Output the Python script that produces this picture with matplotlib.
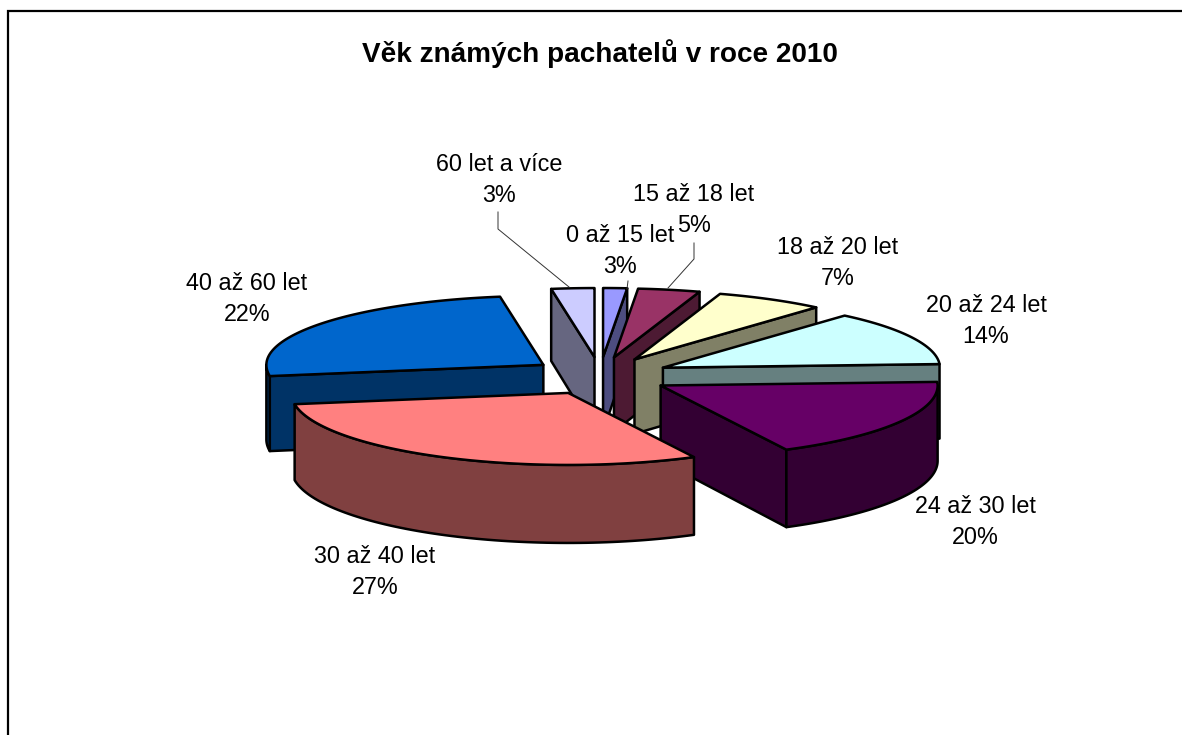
import matplotlib
matplotlib.use("Agg")
import matplotlib.pyplot as plt
from matplotlib.patches import Polygon
import numpy as np

plt.rcParams['font.family'] = ['Liberation Sans', 'DejaVu Sans']

title = "Věk známých pachatelů v roce 2010"
# order as in the chart, clockwise from the top
categories = ["0 až 15 let", "15 až 18 let", "18 až 20 let", "20 až 24 let",
              "24 až 30 let", "30 až 40 let", "40 až 60 let", "60 let a více"]
percents = [3, 5, 7, 14, 20, 27, 22, 3]
top_colors = ["#9999FF", "#993366", "#FFFFCC", "#CCFFFF",
              "#660066", "#FF8080", "#0066CC", "#CCCCFF"]
side_colors = ["#4D4D80", "#4D1A33", "#808066", "#668080",
               "#330033", "#804040", "#003366", "#666680"]
# label centres in pixels
label_pos = [(620, 250), (694, 209), (838, 262), (986, 320),
             (975, 521), (375, 571), (247, 298), (499, 179)]

# geometry of the fake 3d pie, in pixels
cx, cy = 600, 376
rx = 277
ry_back, ry_front = 69, 72
ex, ey = 70, 19
# excel perspective squeezes the back of the pie: cumulative percent -> drawn angle
warp_pct = [0, 3, 8, 15, 29, 49, 76, 98, 101]
warp_deg = [0, 5, 18, 41, 87, 153, 261, 351, 360]


def depth(y):
    # front of the pie is a bit thicker than the back
    return 72 + 0.034 * (y - 288)


def rim(ax0, ay0, t):
    t = np.radians(t)
    c = np.cos(t)
    return ax0 + rx * np.sin(t), ay0 - np.where(c > 0, ry_back, ry_front) * c


def drop(xs, ys):
    xs = np.atleast_1d(xs)
    ys = np.atleast_1d(ys)
    return xs, ys + depth(ys)


def draw_face(ax, xs, ys, color):
    ax.add_patch(Polygon(np.column_stack([xs, ys]), closed=True, facecolor=color,
                         edgecolor="black", linewidth=1.8, joinstyle="round"))


fig = plt.figure(figsize=(11.82, 7.35), dpi=100)
ax = fig.add_axes([0, 0, 1, 1])
ax.set_xlim(0, 1182)
ax.set_ylim(735, 0)
ax.axis("off")

# chart frame, only top and left fall inside the picture
ax.plot([7.7, 7.7, 1182], [735, 10.7, 10.7], color="black", linewidth=1.6,
        solid_joinstyle="miter")

cum = np.cumsum([0] + percents)
angles = np.interp(cum, warp_pct, warp_deg)
slices = []
for i in range(len(percents)):
    a, b = angles[i], angles[i + 1]
    mid = np.radians((a + b) / 2)
    apex_x = cx + ex * np.sin(mid)
    apex_y = cy - ey * np.cos(mid)
    slices.append((apex_y, i, a, b, apex_x))

# back slices first
for apex_y, i, a, b, apex_x in sorted(slices):
    side = side_colors[i]
    # cut faces that look towards the viewer
    for t, visible in ((a, np.sin(np.radians(a)) < 0), (b, np.sin(np.radians(b)) > 0)):
        if visible:
            rx_pt, ry_pt = rim(apex_x, apex_y, t)
            xs = np.array([apex_x, rx_pt])
            ys = np.array([apex_y, ry_pt])
            low_x, low_y = drop(xs, ys)
            draw_face(ax, np.r_[xs, low_x[::-1]], np.r_[ys, low_y[::-1]], side)
    # outer wall
    lo, hi = max(a, 90), min(b, 270)
    if hi > lo:
        tt = np.linspace(lo, hi, 80)
        xs, ys = rim(apex_x, apex_y, tt)
        low_x, low_y = drop(xs, ys)
        draw_face(ax, np.r_[xs, low_x[::-1]], np.r_[ys, low_y[::-1]], side)
    # top
    tt = np.linspace(a, b, 80)
    xs, ys = rim(apex_x, apex_y, tt)
    draw_face(ax, np.r_[apex_x, xs], np.r_[apex_y, ys], top_colors[i])

# labels
for name, pct, (lx, ly) in zip(categories, percents, label_pos):
    ax.text(lx, ly - 14.5, name, ha="center", va="center", fontsize=16.8, color="black")
    ax.text(lx, ly + 16, "%d%%" % pct, ha="center", va="center", fontsize=16.8, color="black")

# leader lines
ax.plot([498, 498, 569], [212, 229, 287], color="#333333", linewidth=0.7)
ax.plot([694, 694, 668], [243, 259, 288], color="#333333", linewidth=0.7)
ax.plot([628, 627], [281, 289], color="#333333", linewidth=0.7)

ax.text(600, 54, title, ha="center", va="center", fontsize=20.1, fontweight="bold",
        color="black")

fig.savefig("out.png", dpi=100, facecolor="white")
